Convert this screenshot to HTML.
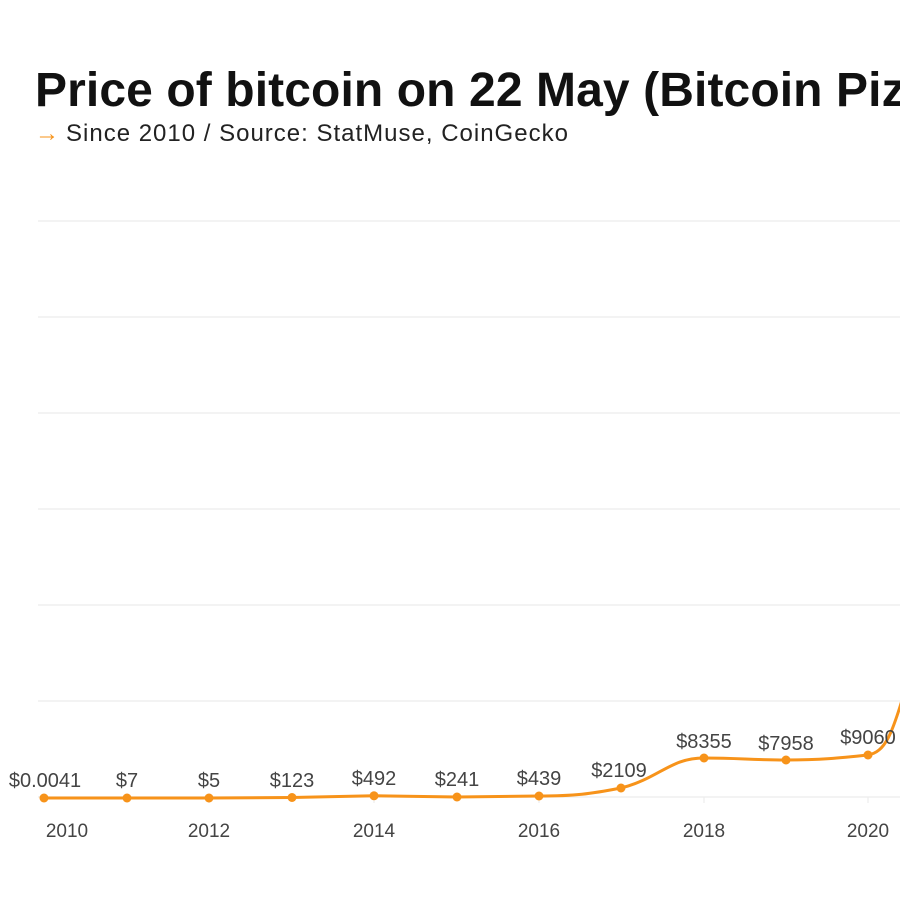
<!DOCTYPE html>
<html><head><meta charset="utf-8"><style>
body{margin:0;width:900px;height:900px;background:#fff;overflow:hidden;font-family:"Liberation Sans",sans-serif;}
</style></head><body>
<svg width="900" height="900" xmlns="http://www.w3.org/2000/svg">
<text x="35" y="106" font-family="Liberation Sans, sans-serif" font-weight="bold" font-size="48" fill="#111" letter-spacing="0.1">Price of bitcoin on 22 May (Bitcoin Pizza Day)</text>
<text x="35" y="141" font-family="Liberation Sans, sans-serif" font-size="24" fill="#f7931a">→</text>
<text x="66" y="141" font-family="Liberation Sans, sans-serif" font-size="24" fill="#222" letter-spacing="1">Since 2010 / Source: StatMuse, CoinGecko</text>
<g stroke="#ececec" stroke-width="1.2">
<line x1="38" x2="900" y1="221" y2="221"/><line x1="38" x2="900" y1="317" y2="317"/><line x1="38" x2="900" y1="413" y2="413"/><line x1="38" x2="900" y1="509" y2="509"/><line x1="38" x2="900" y1="605" y2="605"/><line x1="38" x2="900" y1="701" y2="701"/><line x1="38" x2="900" y1="797" y2="797"/>
<line x1="209" x2="209" y1="797" y2="803"/><line x1="374" x2="374" y1="797" y2="803"/><line x1="539" x2="539" y1="797" y2="803"/><line x1="704" x2="704" y1="797" y2="803"/><line x1="868" x2="868" y1="797" y2="803"/>
</g>
<path d="M44,798 L127,798 L209,798 L292,797.5 L374,795.8 L457,797 L539,796 C575,796 590,794 621,788 C660,778 670,758 704,758 C740,758 750,760 786,760 C820,760 840,758 868,755 C885,752 892,735 905,690 L920,640" fill="none" stroke="#f7931a" stroke-width="3"/>
<g fill="#f7931a">
<circle cx="44" cy="798" r="4.5"/><circle cx="127" cy="798" r="4.5"/><circle cx="209" cy="798" r="4.5"/><circle cx="292" cy="797.5" r="4.5"/><circle cx="374" cy="795.8" r="4.5"/><circle cx="457" cy="797" r="4.5"/><circle cx="539" cy="796" r="4.5"/><circle cx="621" cy="788" r="4.5"/><circle cx="704" cy="758" r="4.5"/><circle cx="786" cy="760" r="4.5"/><circle cx="868" cy="755" r="4.5"/>
</g>
<g font-family="Liberation Sans, sans-serif" font-size="20" fill="#444" text-anchor="middle">
<text x="45" y="787">$0.0041</text><text x="127" y="787">$7</text><text x="209" y="787">$5</text><text x="292" y="787">$123</text><text x="374" y="785">$492</text><text x="457" y="786">$241</text><text x="539" y="785">$439</text><text x="619" y="777">$2109</text><text x="704" y="748">$8355</text><text x="786" y="750">$7958</text><text x="868" y="744">$9060</text>
</g>
<g font-family="Liberation Sans, sans-serif" font-size="19" fill="#444" text-anchor="middle">
<text x="67" y="837">2010</text><text x="209" y="837">2012</text><text x="374" y="837">2014</text><text x="539" y="837">2016</text><text x="704" y="837">2018</text><text x="868" y="837">2020</text>
</g>
</svg>
</body></html>
